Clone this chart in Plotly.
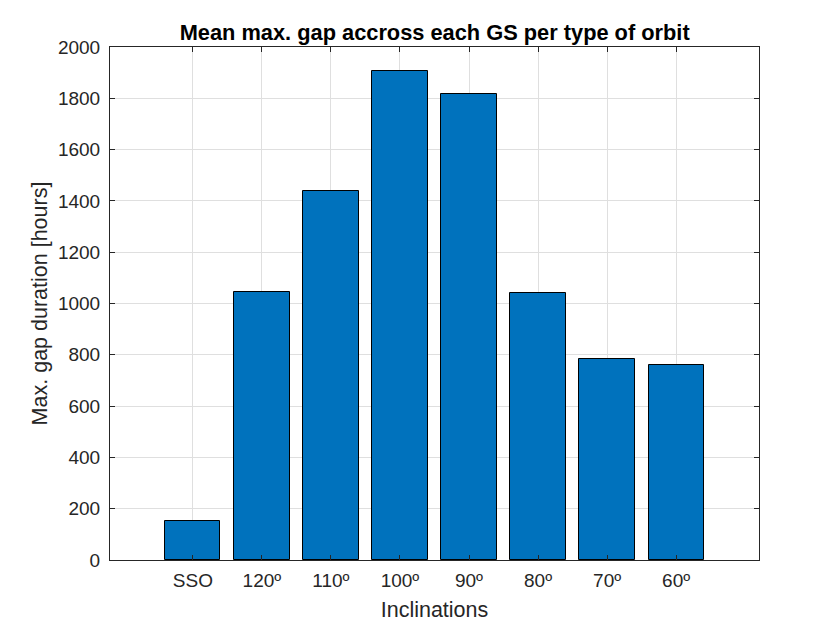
import plotly.graph_objects as go

categories = ["SSO", "120º", "110º", "100º", "90º", "80º", "70º", "60º"]
gap_hours = [151, 1046, 1438, 1905, 1818, 1042, 785, 761]
positions = list(range(1, len(categories) + 1))
y_ticks = list(range(0, 2001, 200))

FONT = "Liberation Sans, Arial, sans-serif"
AX = "#262626"
GRID = "#dfdfdf"

fig = go.Figure()
fig.add_trace(go.Bar(
    x=positions, y=gap_hours, width=0.8,
    marker=dict(color="#0072BD", line=dict(color="black", width=1)),
))

fig.update_layout(
    width=840, height=630,
    margin=dict(l=109.5, r=80.5, t=47, b=70),
    paper_bgcolor="white", plot_bgcolor="white",
    showlegend=False,
    font=dict(family=FONT, color=AX, size=19),
    title=dict(text="<b>Mean max. gap accross each GS per type of orbit</b>",
               x=0.5175, xanchor="center", y=1 - 32 / 630, yanchor="middle",
               font=dict(size=21.8, color="black", family=FONT)),
    bargap=0,
)
fig.update_xaxes(
    range=[-0.2, 9.2], tickvals=positions, ticktext=categories,
    showgrid=True, gridcolor=GRID, gridwidth=1,
    showline=True, linecolor=AX, linewidth=1, mirror="ticks",
    ticks="inside", ticklen=5, tickcolor=AX,
    zeroline=False, ticklabelstandoff=3,
    title=dict(text="Inclinations", font=dict(size=21.5, color=AX), standoff=12),
    tickfont=dict(size=19, color=AX),
)
fig.update_yaxes(
    range=[0, 2000], tickvals=y_ticks,
    showgrid=True, gridcolor=GRID, gridwidth=1,
    showline=True, linecolor=AX, linewidth=1, mirror="ticks",
    ticks="inside", ticklen=5, tickcolor=AX,
    zeroline=False, ticklabelstandoff=5,
    title=dict(text="Max. gap duration [hours]", font=dict(size=21.5, color=AX), standoff=4),
    tickfont=dict(size=19, color=AX),
)

fig.write_html("out.html")
